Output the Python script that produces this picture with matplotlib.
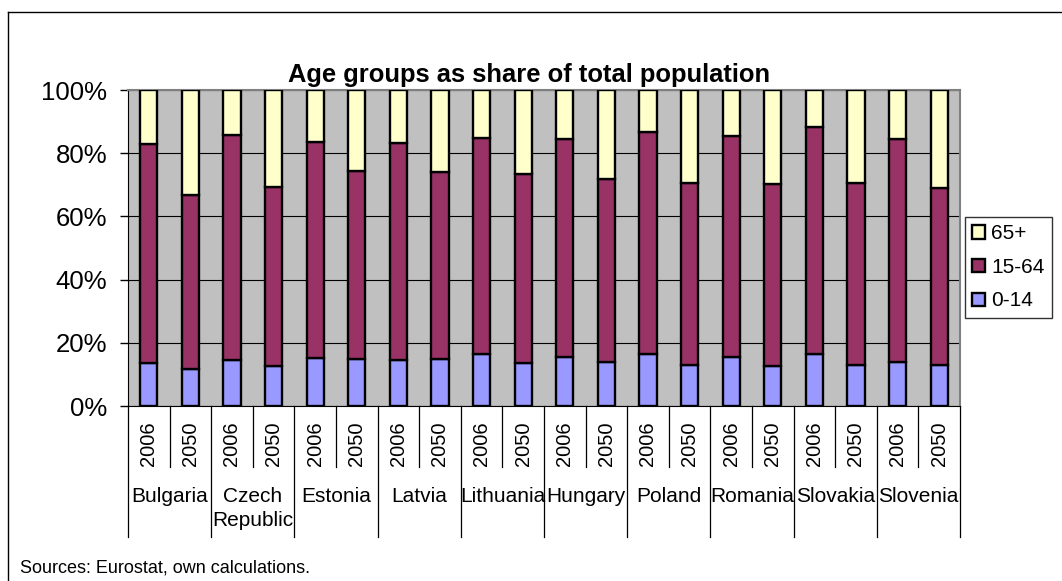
import numpy as np
import matplotlib
matplotlib.use('Agg')
import matplotlib.pyplot as plt
from matplotlib.patches import Patch
from matplotlib.lines import Line2D
import matplotlib.transforms as mtransforms


countries = ['Bulgaria', 'Czech\nRepublic', 'Estonia', 'Latvia', 'Lithuania',
             'Hungary', 'Poland', 'Romania', 'Slovakia', 'Slovenia']
years = ['2006', '2050']

# shares in % per country, 2006 then 2050
age_0_14 = [13.6, 11.6, 14.6, 12.7, 15.1, 14.8, 14.5, 14.8, 16.6, 13.7,
            15.4, 13.8, 16.3, 13.1, 15.5, 12.7, 16.5, 12.9, 14.0, 12.9]
age_15_64 = [69.3, 55.1, 71.2, 56.5, 68.4, 59.6, 68.8, 59.3, 68.1, 59.6,
             69.0, 58.1, 70.5, 57.6, 69.8, 57.7, 71.7, 57.8, 70.5, 56.2]
age_65 = [17.1, 33.3, 14.2, 30.8, 16.5, 25.6, 16.7, 25.9, 15.3, 26.7,
          15.6, 28.1, 13.2, 29.3, 14.7, 29.6, 11.8, 29.3, 15.5, 30.9]

plt.rcParams['font.family'] = ['Liberation Sans', 'DejaVu Sans']

W, H = 1062, 581
fig = plt.figure(figsize=(W / 100, H / 100), dpi=100)
ax = fig.add_axes([128 / W, 1 - 406 / H, 832 / W, 316 / H])
ax.set_facecolor('#C0C0C0')

x = np.arange(len(age_0_14))
y0 = np.array(age_0_14)
y1 = np.array(age_15_64)
y2 = np.array(age_65)
kw = dict(width=0.41, edgecolor='black', linewidth=1.7, zorder=3)
ax.bar(x, y0, color='#9999FF', **kw)
ax.bar(x, y1, bottom=y0, color='#993366', **kw)
ax.bar(x, y2, bottom=y0 + y1, color='#FFFFCC', **kw)

ax.set_xlim(-0.5, len(x) - 0.5)
ax.set_ylim(0, 100)
ax.set_yticks(np.arange(0, 101, 20))
ax.set_yticklabels([f'{v}%' for v in range(0, 101, 20)], fontsize=18.5)
ax.tick_params(axis='y', length=6, width=1, pad=9, direction='out')
ax.set_xticks([])
ax.yaxis.grid(True, color='black', linewidth=0.8, zorder=0)
ax.set_axisbelow(True)

for s in ['top', 'right']:
    ax.spines[s].set_color('#808080')
    ax.spines[s].set_linewidth(1.5)
ax.spines['left'].set_color('black')
ax.spines['bottom'].set_color('black')

# category axis: year labels, country labels and separators
trans = mtransforms.blended_transform_factory(ax.transData, ax.transAxes)
for i in range(len(x) + 1):
    low = -0.415 if i % 2 == 0 else -0.193
    ax.plot([i - 0.5, i - 0.5], [0, low], color='black', linewidth=0.9,
            transform=trans, clip_on=False)
for i in x:
    ax.text(i, -0.12, years[i % 2], rotation=90, ha='center', va='center',
            fontsize=14.5, transform=trans)
for k, c in enumerate(countries):
    ax.text(2 * k + 0.5, -(487 - 406) / 316, c, ha='center', va='top',
            fontsize=15, linespacing=1.3, transform=trans)

fig.text(529 / W, 1 - 75 / H, 'Age groups as share of total population',
         ha='center', va='center', fontsize=18.4, fontweight='bold')
fig.text(20 / W, 1 - 568 / H, 'Sources: Eurostat, own calculations.',
         ha='left', va='center', fontsize=13)

# outer frame
fig.add_artist(Line2D([8 / W, 8 / W], [1 - 12 / H, 0], color='black', linewidth=1))
fig.add_artist(Line2D([8 / W, 1], [1 - 12 / H, 1 - 12 / H], color='black', linewidth=1))

handles = [Patch(facecolor='#FFFFCC', edgecolor='black', linewidth=1.7),
           Patch(facecolor='#993366', edgecolor='black', linewidth=1.7),
           Patch(facecolor='#9999FF', edgecolor='black', linewidth=1.7)]
leg = fig.legend(handles, ['65+', '15-64', '0-14'], loc='upper left',
                 bbox_to_anchor=(965 / W, 1 - 217 / H), fontsize=15,
                 frameon=True, fancybox=False, edgecolor='black',
                 handlelength=0.6, handleheight=0.6, handletextpad=0.3,
                 labelspacing=0.7, borderpad=0.35, borderaxespad=0)
leg.get_frame().set_linewidth(1)

fig.savefig('out.png', dpi=100)
